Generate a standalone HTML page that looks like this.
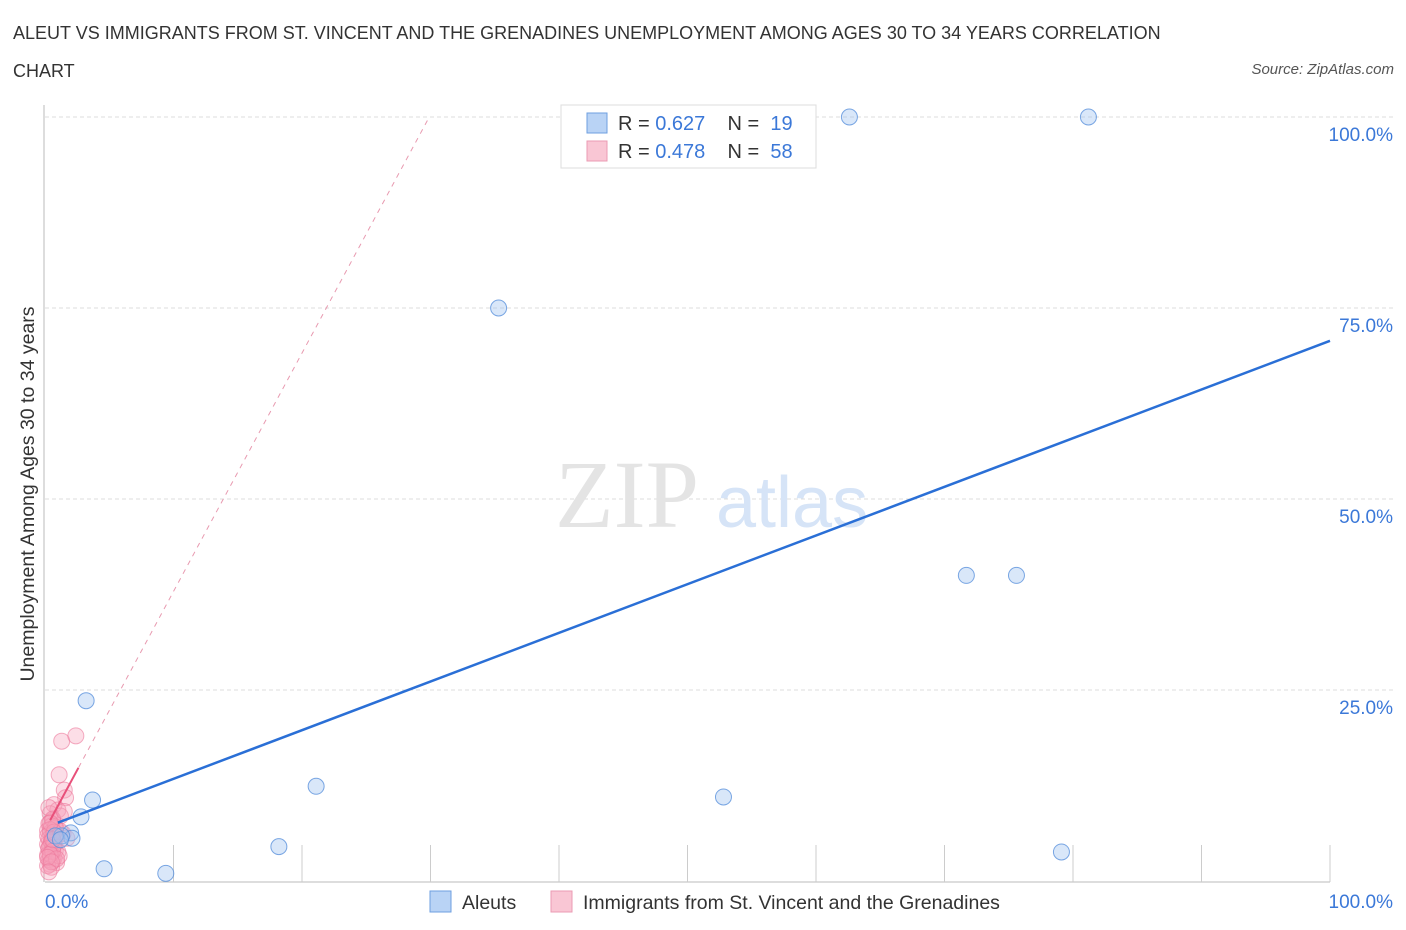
<!DOCTYPE html>
<html><head><meta charset="utf-8"><style>
body{margin:0;background:#fff;font-family:"Liberation Sans",sans-serif}
#title{position:absolute;left:13px;top:14px;font-size:18px;color:#333;line-height:38px;width:1195px}
#src{position:absolute;right:12px;top:61px;font-size:15px;font-style:italic;color:#555}
</style></head><body>
<div id="title">ALEUT VS IMMIGRANTS FROM ST. VINCENT AND THE GRENADINES UNEMPLOYMENT AMONG AGES 30 TO 34 YEARS CORRELATION CHART</div>
<div id="src">Source: ZipAtlas.com</div>
<svg id="chart" width="1406" height="930" style="position:absolute;left:0;top:0"></svg>
<script>
const blueX=[62.6,81.2,35.3,71.7,75.6,3.2,21.1,52.8,3.7,2.8,2.0,2.1,1.3,18.2,79.1,4.6,9.4,0.8,1.2];
const blueY=[100,100,75,40,40,23.6,12.4,11,10.6,8.4,6.3,5.6,5.9,4.5,3.8,1.6,1.0,5.9,5.4];
const pinkX=[1.3,2.4,1.1,1.5,1.6,0.7,1.0,1.2,0.4,0.6,0.3,0.5,0.8,0.2,0.4,0.6,0.9,0.3,0.5,0.7,1.4,1.7,0.2,0.4,0.6,0.3,0.8,1.0,0.5,0.2,0.4,0.7,0.3,0.6,0.9,0.4,0.2,0.5,1.1,0.3,0.6,0.8,0.4,0.2,0.5,0.7,0.3,1.2,0.6,0.4,0.9,0.2,0.5,0.3,1.5,0.7,0.4,0.6];
const pinkY=[18.3,19,13.9,11.9,10.9,10,9.3,8.5,8.8,7.9,7.5,7.2,6.9,6.6,6.3,6.0,5.8,5.5,5.3,5.0,6.2,5.6,4.8,4.6,4.4,4.2,4.0,3.8,3.6,3.4,3.2,3.0,2.8,2.6,2.4,2.2,2.0,1.8,3.3,9.6,8.1,7.1,6.7,5.9,5.1,4.7,4.3,6.5,3.9,3.5,2.9,3.1,2.5,1.2,9.1,6.4,7.6,5.4];
const blueLine=[7.0,70.7], pinkLine=[6.7,3.12];
const yTicks=[25,50,75,100], yLabels=["25.0%","50.0%","75.0%","100.0%"];
const X=v=>45+v*12.85, Y=v=>881-v*7.64;
const s=document.getElementById('chart');const NS='http://www.w3.org/2000/svg';
function mk(t,a,p){const e=document.createElementNS(NS,t);for(const k in a)e.setAttribute(k,a[k]);(p||s).appendChild(e);return e;}
let e;
yTicks.forEach((t,i)=>{e=mk('line',{x1:45,x2:1393,y1:Y(t),y2:Y(t),stroke:'#ddd','stroke-dasharray':'4,3'});

e=mk('text',{x:1393,y:Y(t)+24,'text-anchor':'end','font-size':19,fill:'#3b78d8'});e.textContent=yLabels[i];
});
e=mk('line',{x1:45,x2:1330,y1:882,y2:882,stroke:'#bbb'});
e=mk('line',{x1:44,x2:44,y1:105,y2:882,stroke:'#bbb'});
for(let i=1;i<=10;i++){e=mk('line',{x1:45+i*128.5,x2:45+i*128.5,y1:845,y2:882,stroke:'#ccc'});}
e=mk('text',{x:45,y:908,'font-size':19,fill:'#3b78d8'});e.textContent='0.0%';
e=mk('text',{x:1393,y:908,'text-anchor':'end','font-size':19,fill:'#3b78d8'});e.textContent='100.0%';
e=mk('text',{x:34,y:494,transform:'rotate(-90 34 494)','text-anchor':'middle','font-size':19.5,fill:'#333'});e.textContent='Unemployment Among Ages 30 to 34 years';
e=mk('text',{x:555,y:527,'font-size':96,fill:'#e4e4e4','font-family':'Liberation Serif'});e.textContent='ZIP';
e=mk('text',{x:716,y:527,'font-size':72,fill:'#d6e4f7'});e.textContent='atlas';
const pEnd=(100-pinkLine[0])/pinkLine[1];
e=mk('line',{x1:X(0.4),y1:Y(pinkLine[0]+0.4*pinkLine[1]),x2:X(pEnd),y2:Y(100),stroke:'#e89ab0','stroke-dasharray':'5,5'});
pinkX.forEach((x,i)=>{e=mk('circle',{cx:X(x),cy:Y(pinkY[i]),r:8,fill:'rgba(246,160,185,0.35)',stroke:'rgba(236,120,155,0.6)'});});
blueX.forEach((x,i)=>{e=mk('circle',{cx:X(x),cy:Y(blueY[i]),r:8,fill:'rgba(160,195,240,0.4)',stroke:'rgba(90,145,220,0.8)'});});
e=mk('line',{x1:X(0.4),y1:Y(pinkLine[0]+0.4*pinkLine[1]),x2:X(2.6),y2:Y(pinkLine[0]+2.6*pinkLine[1]),stroke:'#e8507a','stroke-width':2});
e=mk('line',{x1:X(1),y1:Y(blueLine[0]+(blueLine[1]-blueLine[0])*0.01),x2:X(100),y2:Y(blueLine[1]),stroke:'#2a6fd6','stroke-width':2.5});
e=mk('rect',{x:561,y:105,width:255,height:63,fill:'#fff',stroke:'#ddd'});
[["#b9d3f5","#6e9fe0","0.627","19",123],["#f9c6d4","#eb9bb3","0.478","58",151]].forEach(r=>{
e=mk('rect',{x:587,y:r[4]-10,width:20,height:20,fill:r[0],stroke:r[1]});
e=mk('text',{x:618,y:r[4]+7,'font-size':20,fill:'#333'});e.innerHTML='R = <tspan fill="#3b78d8">'+r[2]+'</tspan>&#160;&#160;&#160;&#160;N = &#160;<tspan fill="#3b78d8">'+r[3]+'</tspan>';});
[[430,"#b9d3f5","#6e9fe0","Aleuts"],[551,"#f9c6d4","#eb9bb3","Immigrants from St. Vincent and the Grenadines"]].forEach(r=>{
e=mk('rect',{x:r[0],y:891,width:21,height:21,fill:r[1],stroke:r[2]});
e=mk('text',{x:r[0]+32,y:909,'font-size':19.5,fill:'#333'});e.textContent=r[3];});
</script>
</body></html>
